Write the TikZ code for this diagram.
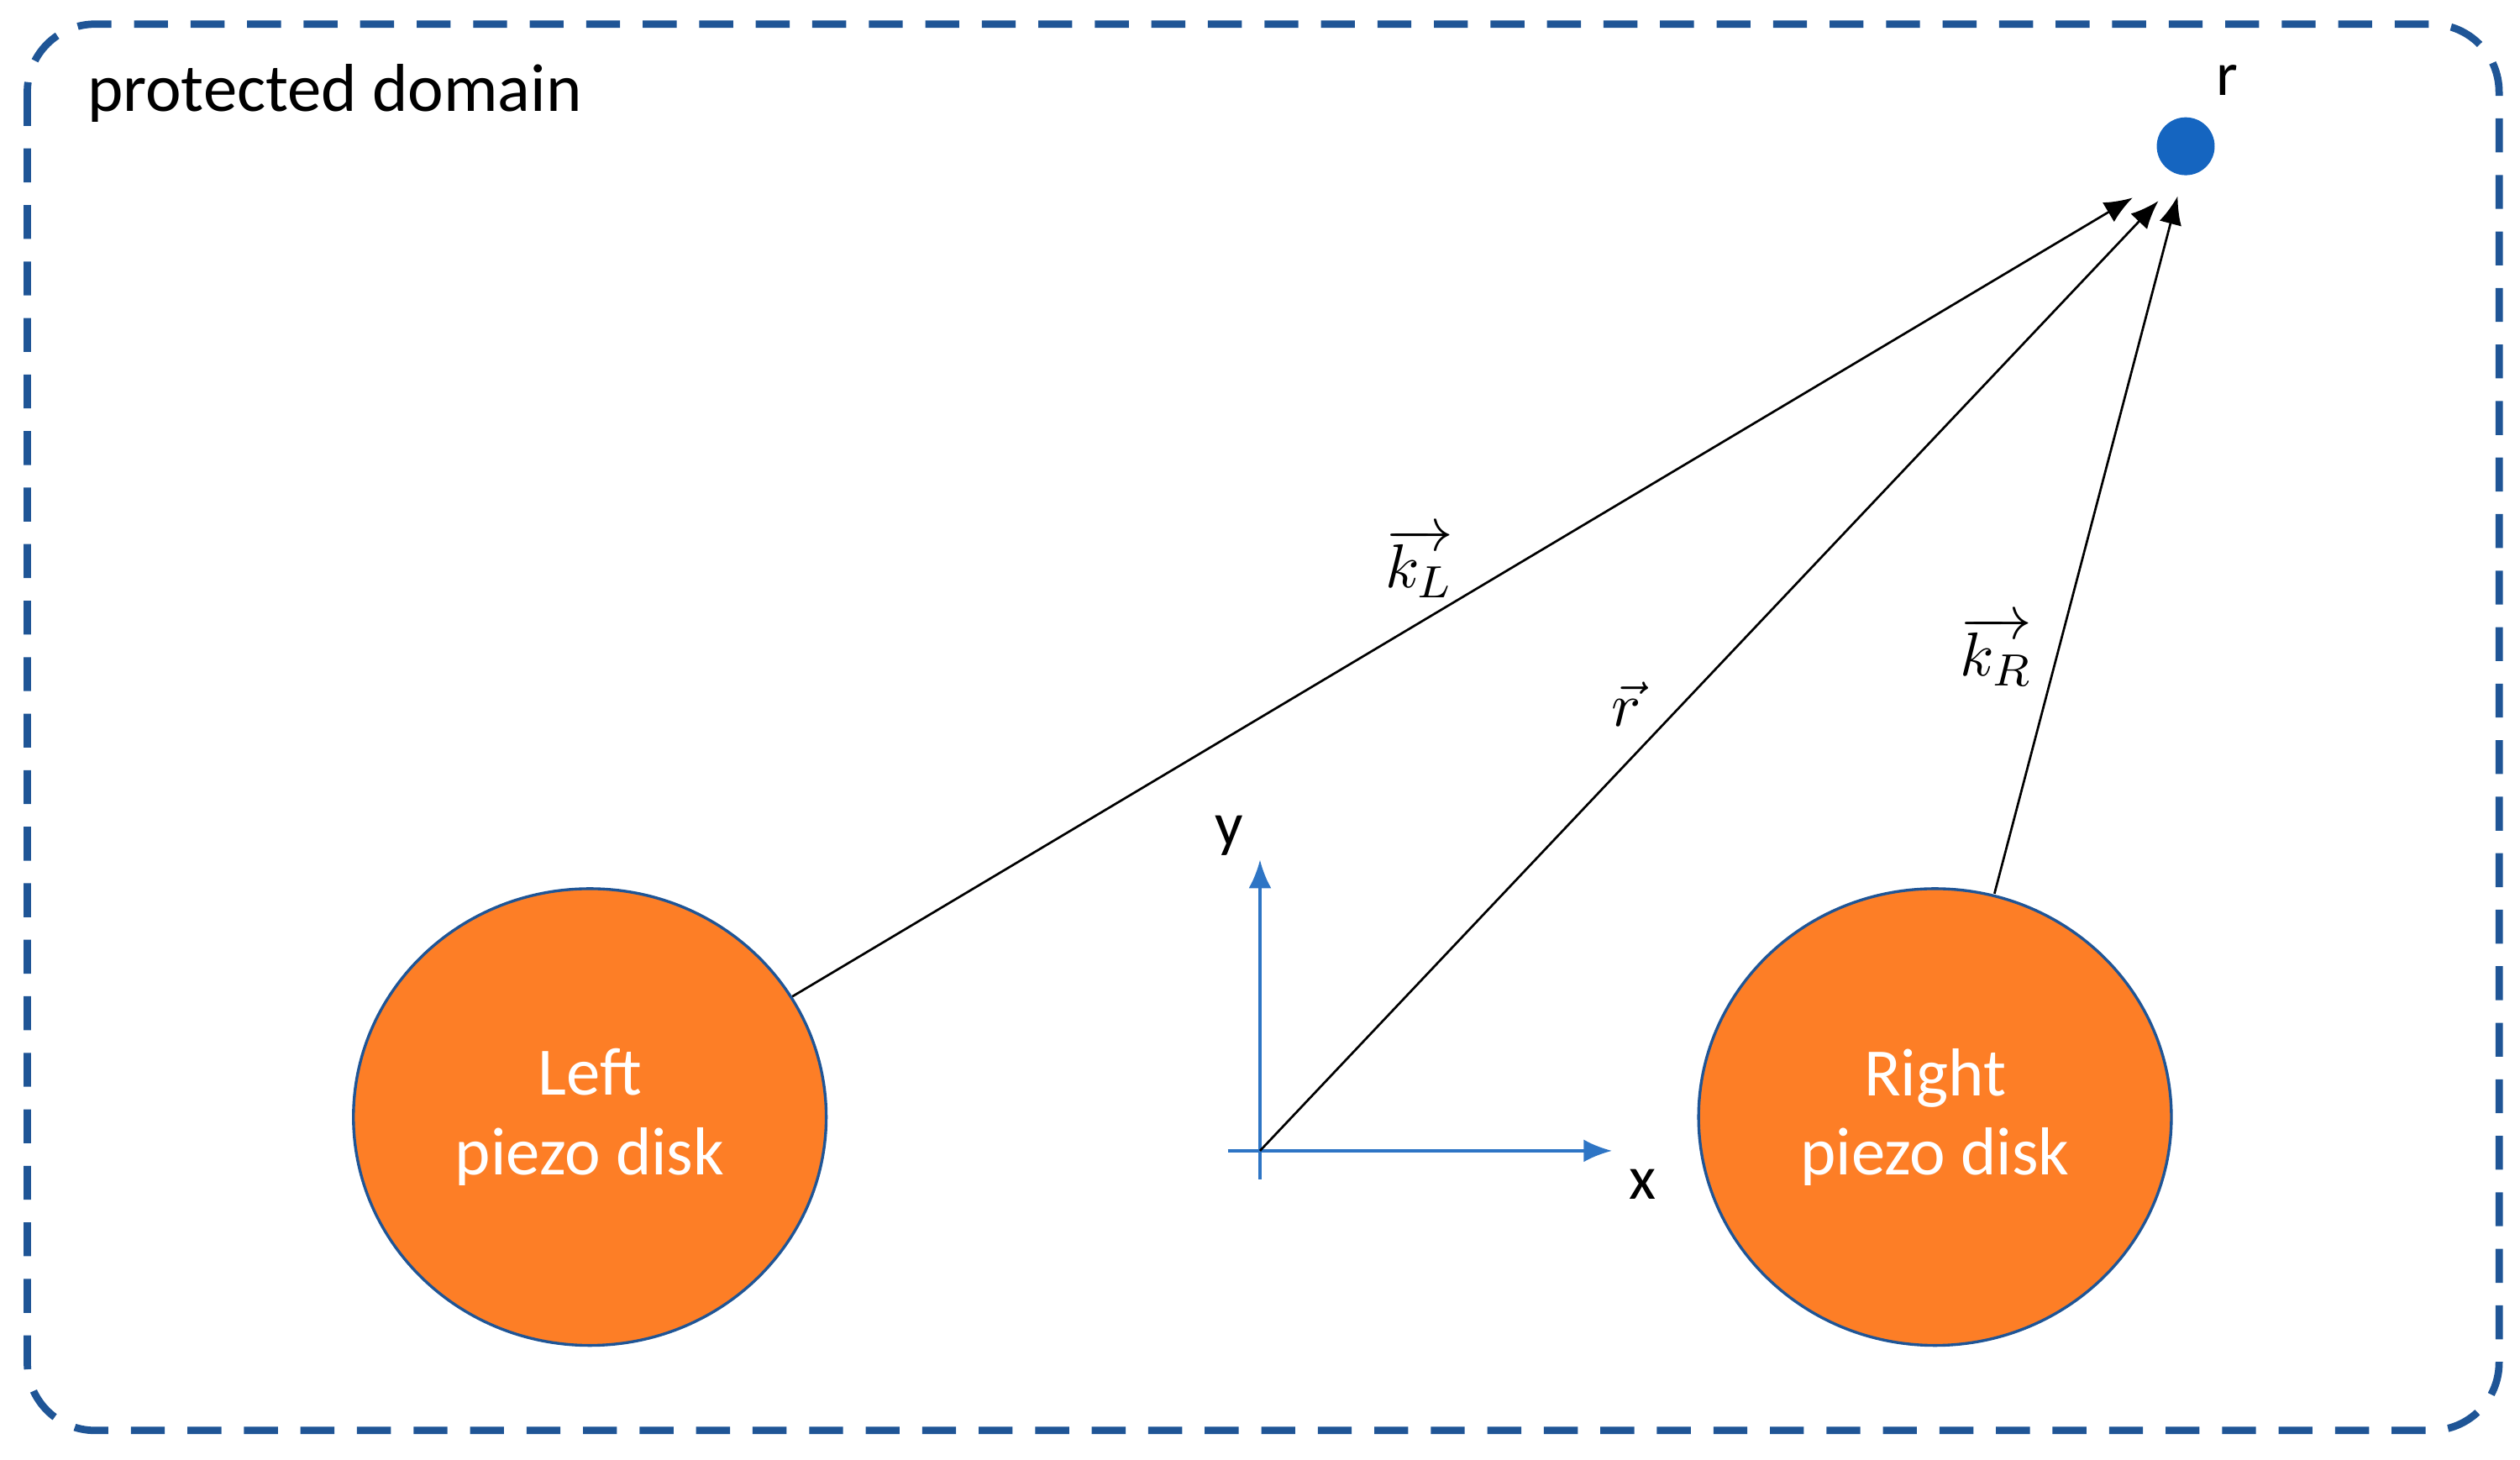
\documentclass[tikz,border=0pt]{standalone}
\usepackage{fontspec}
\setmainfont{Carlito}
\usetikzlibrary{arrows.meta, shapes.geometric}
\definecolor{frameblue}{RGB}{31,85,150}
\definecolor{diskorange}{RGB}{253,126,38}
\definecolor{dotblue}{RGB}{21,101,192}
\definecolor{axisblue}{RGB}{46,117,197}
\begin{document}
\begin{tikzpicture}[x=0.01cm,y=-0.01cm]
        \tikzset{disk/.style = {ellipse, draw=frameblue, fill=diskorange, line width=0.5pt, minimum width=2.94cm, minimum height=2.84cm, text=white, align=center, font=\fontsize{12}{14}\selectfont}}
        \tikzset{vec/.style = {draw, -{Latex[length=5pt,width=4pt]}, line width=0.4pt}}
        \tikzset{axis/.style = {draw=axisblue, -{Latex[length=5pt,width=4pt]}, line width=0.5pt}}
        \useasboundingbox (0,0) rectangle (1568,908);
        \draw [frameblue, line width=1.3pt, dash pattern=on 6pt off 4pt, rounded corners=12pt] (17,15) rectangle (1555,890);
        \node [anchor=west, font=\fontsize{12}{14}\selectfont] at (42,58) (title) {protected domain};

        \node [disk, inner sep=0pt] at (367,695) (left) {Left\\piezo disk};
        \node [disk, inner sep=0pt] at (1204,695) (right) {Right\\piezo disk};
        \node [circle, fill=dotblue, minimum size=0.36cm, inner sep=0pt] at (1360,91) (target) {};
        \node [font=\fontsize{11}{13}\selectfont] at (1386,50) (rlabel) {r};

        \coordinate (origin) at (784,716);
        \coordinate (xend) at (1003,716);
        \coordinate (yend) at (784,535);
        \coordinate (xtail) at (764,716);
        \coordinate (ytail) at (784,734);
        \coordinate (lstart) at (493,620);
        \coordinate (rstart) at (1241,556);
        \coordinate (lend) at (1327,123);
        \coordinate (oend) at (1343,125);
        \coordinate (rend) at (1355,122);
        \draw [axisblue, line width=0.5pt] (xtail) -- (origin) -- (ytail);
        \path [axis] (origin) -- (xend);
        \path [axis] (origin) -- (yend);
        \node [font=\fontsize{11}{13}\selectfont] at (1022,737) (xlabel) {x};
        \node [font=\fontsize{11}{13}\selectfont] at (765,520) (ylabel) {y};

        \path [vec] (lstart) -- (lend);
        \path [vec] (origin) -- (oend);
        \path [vec] (rstart) -- (rend);
        \node [font=\fontsize{11}{13}\selectfont] at (883,350) (kL) {$\overrightarrow{k_L}$};
        \node [font=\fontsize{11}{13}\selectfont] at (1012,438) (rvec) {$\vec{r}$};
        \node [font=\fontsize{11}{13}\selectfont] at (1242,405) (kR) {$\overrightarrow{k_R}$};
    \end{tikzpicture}
\end{document}
